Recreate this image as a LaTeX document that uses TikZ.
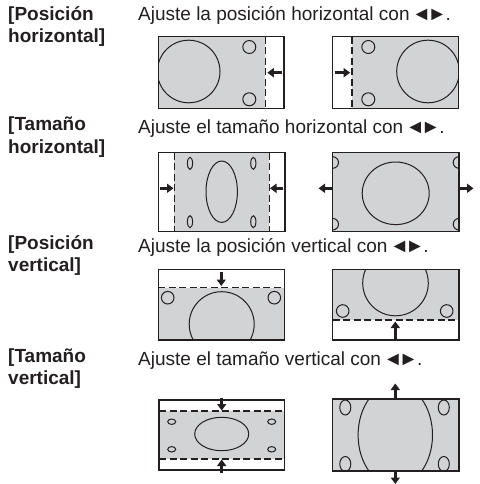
\documentclass[tikz,border=0pt]{standalone}
\usepackage{fontspec}
\setmainfont{Liberation Sans}
\usetikzlibrary{arrows.meta}
\definecolor{ink}{HTML}{231F20}
\definecolor{scr}{HTML}{D1D3D4}
\newcommand{\lrkeys}{\kern6pt{\fontsize{19.5}{19.5}\selectfont\makebox[12pt]{◄}\kern3.5pt\makebox[12pt]{►}}\kern2.5pt.}
\tikzset{
 lbl/.style={anchor=base west, inner sep=0pt, font=\fontsize{19}{20}\selectfont\bfseries, text=ink},
 txt/.style={anchor=base west, inner sep=0pt, font=\fontsize{19}{20}\selectfont, text=ink},
 frame/.style={draw=ink, line width=1.25pt},
 shp/.style={draw=ink, line width=1pt},
 dsh/.style={draw=ink, line width=1.2pt, dash pattern=on 7pt off 3.5pt},
 blk/.style={draw=ink, line width=3.3pt, -{Triangle[length=6.5pt,width=9pt]}},
}
\begin{document}
\begin{tikzpicture}[x=1pt,y=-1pt]
\useasboundingbox (0,0) rectangle (479,484);
% ---- texts
\node[lbl] (l1a) at (8,21) {[Posición};
\node[lbl] (l1b) at (8,43) {horizontal]};
\node[txt] (t1) at (138,21) {Ajuste la posición horizontal con\lrkeys};
\node[lbl] (l2a) at (8,131) {[Tamaño};
\node[lbl] (l2b) at (8,153) {horizontal]};
\node[txt] (t2) at (138,133) {Ajuste el tamaño horizontal con\lrkeys};
\node[lbl] (l3a) at (8,249) {[Posición};
\node[lbl] (l3b) at (8,271) {vertical]};
\node[txt] (t3) at (138,252) {Ajuste la posición vertical con\lrkeys};
\node[lbl] (l4a) at (8,362) {[Tamaño};
\node[lbl] (l4b) at (8,384) {vertical]};
\node[txt] (t4) at (138,365) {Ajuste el tamaño vertical con\lrkeys};

% ---- panel 1
\begin{scope}
\clip (158.3,36.7) rectangle (284,108.3);
\fill[scr] (158.3,36.7) rectangle (265.3,108.3);
\draw[shp] (188.7,71.5) circle[radius=31.3pt];
\draw[shp] (249.3,47) circle[radius=6.5pt];
\draw[shp] (249.3,99.3) circle[radius=6.5pt];
\end{scope}
\draw[dsh] (265.3,36.7) -- (265.3,108.3);
\draw[frame] (158.3,36.7) rectangle (284,108.3);
\draw[blk] (282,72.7) -- (267.3,72.7);

% ---- panel 2
\begin{scope}
\clip (332.7,36.7) rectangle (458.3,108.3);
\fill[scr] (352,36.7) rectangle (458.3,108.3);
\draw[shp] (428,71.5) circle[radius=31.3pt];
\draw[shp] (368.3,47) circle[radius=6.5pt];
\draw[shp] (368.3,99.3) circle[radius=6.5pt];
\end{scope}
\draw[dsh] (352,36.7) -- (352,108.3);
\draw[frame] (332.7,36.7) rectangle (458.3,108.3);
\draw[blk] (335,72.7) -- (350.2,72.7);

% ---- panel 3
\begin{scope}
\clip (158.3,152.7) rectangle (285,231.7);
\fill[scr] (174.3,152.7) rectangle (269.3,231.7);
\draw[shp] (221.7,191.7) ellipse[x radius=15.7pt, y radius=30.7pt];
\foreach \px in {190,253.3}{
 \foreach \py in {163.3,221.7}{
  \draw[shp] (\px,\py) ellipse[x radius=2.6pt, y radius=6pt];
 }
}
\end{scope}
\draw[dsh] (174.3,152.7) -- (174.3,231.7);
\draw[dsh] (269.3,152.7) -- (269.3,231.7);
\draw[frame] (158.3,152.7) rectangle (285,231.7);
\draw[blk] (160,188.3) -- (173.5,188.3);
\draw[blk] (283.3,188.3) -- (270,188.3);

% ---- panel 4
\begin{scope}
\clip (332.7,152.7) rectangle (459,231.7);
\fill[scr] (332.7,152.7) rectangle (459,231.7);
\draw[shp] (395.7,193.3) ellipse[x radius=33.5pt, y radius=31.3pt];
\foreach \px in {332.7,459}{
 \foreach \py in {162.5,224.2}{
  \draw[shp] (\px,\py) circle[radius=5.8pt];
 }
}
\end{scope}
\draw[frame] (332.7,152.7) rectangle (459,231.7);
\draw[blk] (331.5,188.3) -- (318.5,188.3);
\draw[blk] (460.2,188.3) -- (473.5,188.3);

% ---- panel 5
\begin{scope}
\clip (158.3,269.3) rectangle (284.3,340);
\fill[scr] (158.3,287.7) rectangle (284.3,340);
\draw[shp] (221.7,324.2) circle[radius=32.5pt];
\draw[shp] (167.7,297.7) circle[radius=6.3pt];
\draw[shp] (274.3,297.7) circle[radius=6.3pt];
\end{scope}
\draw[dsh] (158.3,287.7) -- (284.3,287.7);
\draw[frame] (158.3,269.3) rectangle (284.3,340);
\draw[blk] (221.3,271.5) -- (221.3,286);

% ---- panel 6
\begin{scope}
\clip (332.7,269.3) rectangle (459,340);
\fill[scr] (332.7,269.3) rectangle (459,320);
\draw[shp] (395.5,283) circle[radius=32.8pt];
\draw[shp] (342.7,311) circle[radius=6.3pt];
\draw[shp] (446.7,311) circle[radius=6.3pt];
\end{scope}
\draw[dsh] (332.7,320) -- (459,320);
\draw[frame] (332.7,269.3) rectangle (459,340);
\draw[blk] (395.3,338.5) -- (395.3,321.5);

% ---- panel 7
\begin{scope}
\clip (159,400) rectangle (284.3,470);
\fill[scr] (159,411) rectangle (284.3,459);
\draw[shp] (221.7,434) ellipse[x radius=27pt, y radius=16.7pt];
\foreach \px in {171.7,271.7}{
 \foreach \py in {421.7,449.3}{
  \draw[shp] (\px,\py) ellipse[x radius=4pt, y radius=2.7pt];
 }
}
\end{scope}
\draw[dsh] (159,411) -- (284.3,411);
\draw[dsh] (159,459) -- (284.3,459);
\draw[frame] (159,400) rectangle (284.3,470);
\draw[blk] (221.7,397.5) -- (221.7,410.5);
\draw[blk] (221.7,472.5) -- (221.7,459.5);

% ---- panel 8
\begin{scope}
\clip (332.7,399) rectangle (459,471);
\fill[scr] (332.7,399) rectangle (459,471);
\draw[shp] (395.3,435) ellipse[x radius=37.2pt, y radius=51pt];
\foreach \px in {345.3,443.8}{
 \foreach \py in {407.5,464}{
  \draw[shp] (\px,\py) ellipse[x radius=5.5pt, y radius=7.5pt];
 }
}
\end{scope}
\draw[frame] (332.7,399) rectangle (459,471);
\draw[blk] (395.3,398) -- (395.3,383.5);
\draw[blk] (395.3,472) -- (395.3,484);
\end{tikzpicture}
\end{document}
